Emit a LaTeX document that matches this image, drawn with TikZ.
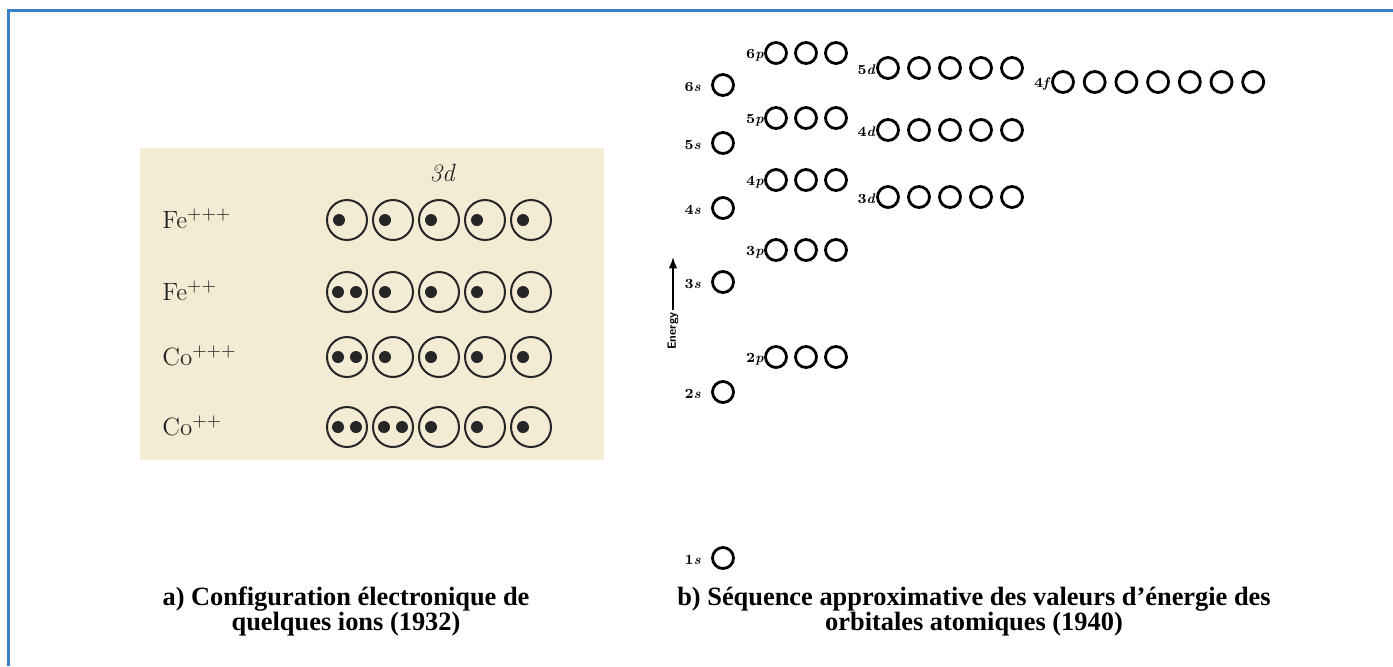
\documentclass[tikz,border=0pt]{standalone}
\usepackage{fontspec}
\newfontfamily\capfont{Liberation Serif}
\usetikzlibrary{positioning,arrows.meta}
\definecolor{frameblue}{HTML}{3C80C8}
\definecolor{paper}{HTML}{F3EBD4}
\definecolor{ink}{HTML}{262626}

\begin{document}
\begin{tikzpicture}[x=0.5pt, y=-0.5pt,
  frame/.style={draw=frameblue, line width=1.5pt},
  ion/.style={anchor=base west, font=\fontsize{12.5}{14}\selectfont, text=ink, inner sep=0pt},
  dorb/.style={draw=ink, circle, line width=1pt, minimum size=20pt, inner sep=0pt},
  elec/.style={fill=ink, circle, minimum size=6pt, inner sep=0pt},
  orb/.style={draw, circle, line width=1.4pt, minimum size=10.5pt, inner sep=0pt},
  lvl/.style={anchor=east, font=\fontsize{7}{8}\selectfont\bfseries, inner sep=0.5pt},
  captext/.style={align=center, font=\capfont\bfseries\fontsize{13.2}{12.5}\selectfont},
  arr/.style={-{Latex[length=2mm]}, line width=0.8pt},
]
  \useasboundingbox (0,0) rectangle (1393,666);
  \draw[frame] (8,666) |- (1393,10);

  % a) 3d shells of the ions
  \fill[paper] (140,148) rectangle (604,460);
  \node[font=\itshape\fontsize{12.5}{14}\selectfont, text=ink] (shell) at (442,173) {3d};
  \foreach \name/\lbl/\y/\np in {fea/Fe$^{+++}$/220/0, feb/Fe$^{++}$/292/1, coa/Co$^{+++}$/357/1, cob/Co$^{++}$/427/2} {
    \node[ion] (\name) at (162,\y+8) {\lbl};
    \foreach \c [evaluate=\c as \x using 347+46*(\c-1)] in {1,...,5} {
      \node[dorb] (\name-\c) at (\x,\y) {};
      \ifnum\c>\np
        \node[elec] (\name-\c-a) at (\x-8,\y) {};
      \else
        \node[elec] (\name-\c-a) at (\x-9,\y) {};
        \node[elec] (\name-\c-b) at (\x+9,\y) {};
      \fi
    }
  }

  % b) energy levels
  \foreach \lv/\lbl/\x/\y/\n/\dx/\gap in {
      s1/1\textit{s}/723/558/1/0/10, s2/2\textit{s}/723/392/1/0/10, s3/3\textit{s}/723/282/1/0/10,
      s4/4\textit{s}/723/208/1/0/10, s5/5\textit{s}/723/143/1/0/10, s6/6\textit{s}/723/85/1/0/10,
      p2/2\textit{p}/776/357/3/30/0, p3/3\textit{p}/776/250/3/30/0, p4/4\textit{p}/776/180/3/30/0,
      p5/5\textit{p}/776/118/3/30/0, p6/6\textit{p}/776/53/3/30/0,
      d3/3\textit{d}/888/197/5/31/0, d4/4\textit{d}/888/130/5/31/0, d5/5\textit{d}/888/68/5/31/0,
      f4/4\textit{f}/1063/82/7/31.7/0} {
    \foreach \k [evaluate=\k as \xk using \x+\dx*(\k-1)] in {1,...,\n}
      \node[orb] (\lv-\k) at (\xk,\y) {};
    \node[lvl] (\lv-lbl) at (\x-11-\gap,\y+2) {\lbl};
  }

  \node[rotate=90, font=\sffamily\bfseries\fontsize{6}{7}\selectfont, inner sep=1pt] (energy) at (673,331) {Energy};
  \coordinate (etop) at (673,257);
  \draw[arr] (energy.east) -- (etop);

  % captions
  \node[captext] (capa) at (346,612) {a) Configuration électronique de\\quelques ions (1932)};
  \node[captext] (capb) at (974,612) {b) Séquence approximative des valeurs d’énergie des\\orbitales atomiques (1940)};
\end{tikzpicture}
\end{document}
